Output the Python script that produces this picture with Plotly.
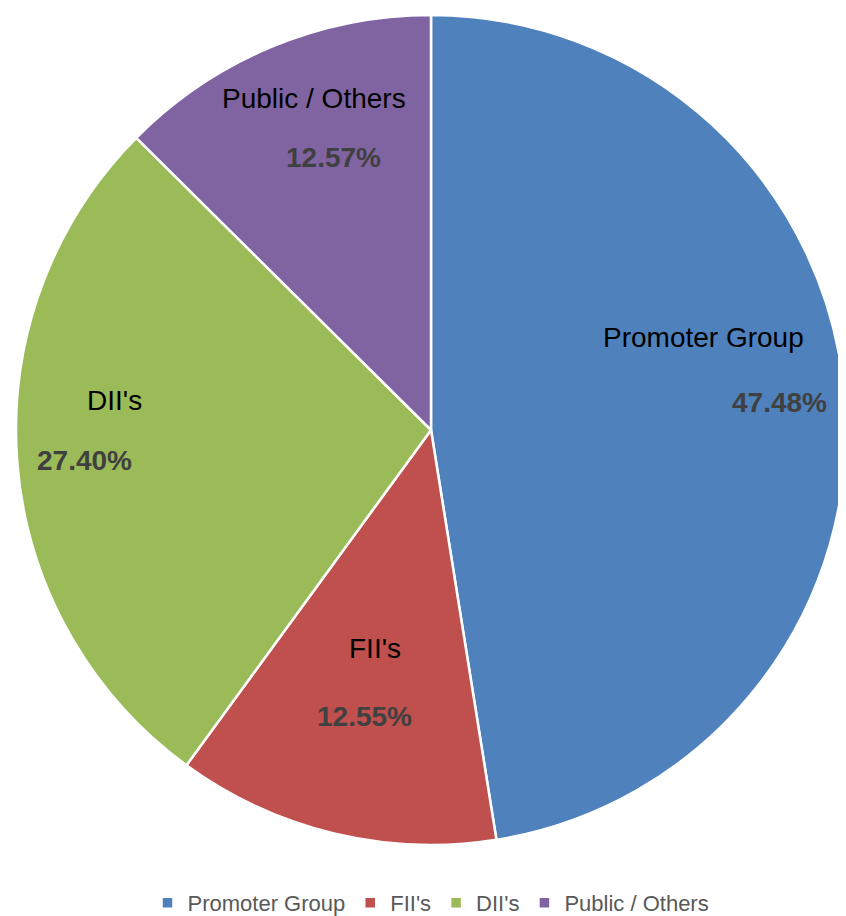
import math
import plotly.graph_objects as go

categories = ["Promoter Group", "FII's", "DII's", "Public / Others"]
values = [47.48, 12.55, 27.40, 12.57]
colors = ["#4F81BD", "#C0504D", "#9BBB59", "#8064A2"]

# the page body has an 8px margin, so the figure is sized to fit the window
W, H = 838, 908
ML, MR, MT, MB = 8, 0, 0, 64
plot_w, plot_h = W - ML - MR, H - MT - MB
R = min(plot_w, plot_h) / 2

fig = go.Figure(go.Pie(
    labels=categories,
    values=values,
    sort=False,
    direction="clockwise",
    rotation=0,
    marker=dict(colors=colors, line=dict(color="white", width=2.5)),
    textinfo="none",
    hoverinfo="label+percent",
    showlegend=True,
))

# label placement (style): anchor at a radial fraction on each slice's mid-angle,
# plus per-line pixel offsets (screen coords, y down)
anchor_r = 0.76
name_off = [(-42, -68), (18, -88), (-2, -55), (4, -40)]
pct_off = [(34, -3), (7, -20), (-32, 5), (24, 19)]

FONT = "Liberation Sans, Arial, sans-serif"
total = sum(values)
cum = 0.0
annotations = []
for i, (cat, v) in enumerate(zip(categories, values)):
    mid = (cum + v / 2) / total * 2 * math.pi
    cum += v
    ax = anchor_r * R * math.sin(mid)
    ay = -anchor_r * R * math.cos(mid)  # screen y (down positive)
    pct_txt = f"{v / total * 100:.2f}%"
    annotations.append(dict(
        x=0.5, y=0.5, xref="paper", yref="paper", showarrow=False,
        text=cat, xshift=ax + name_off[i][0], yshift=-(ay + name_off[i][1]),
        font=dict(family=FONT, size=28, color="#000000"),
        xanchor="center", yanchor="middle",
    ))
    annotations.append(dict(
        x=0.5, y=0.5, xref="paper", yref="paper", showarrow=False,
        text=f"<b>{pct_txt}</b>", xshift=ax + pct_off[i][0], yshift=-(ay + pct_off[i][1]),
        font=dict(family=FONT, size=28, color="#404040"),
        xanchor="center", yanchor="middle",
    ))

fig.update_layout(
    width=W, height=H,
    margin=dict(l=ML, r=MR, t=MT, b=MB, autoexpand=False),
    paper_bgcolor="white",
    plot_bgcolor="white",
    annotations=annotations,
    legend=dict(
        orientation="h",
        x=0.5, xanchor="center",
        y=-51 / plot_h, yanchor="middle",
        font=dict(family=FONT, size=22, color="#595959"),
        itemwidth=30,
    ),
)

fig.write_html("out.html")
